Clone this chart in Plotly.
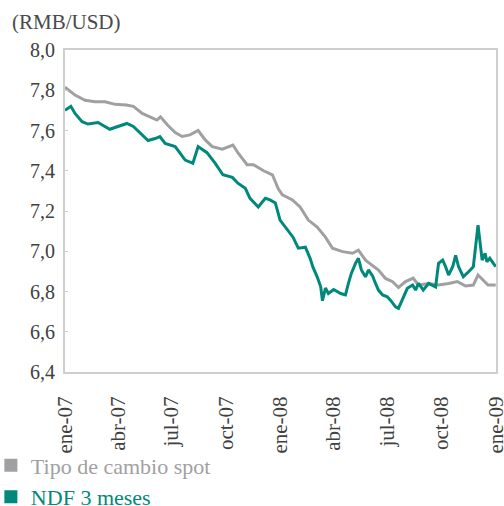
import plotly.graph_objects as go

# ---- data ----
spot_dates = ["2007-01-01","2007-01-18","2007-02-04","2007-02-21","2007-03-10","2007-03-27",
              "2007-04-15","2007-04-27","2007-05-12","2007-05-26","2007-06-06","2007-06-12",
              "2007-06-24","2007-07-07","2007-07-19","2007-08-01","2007-08-15","2007-08-27",
              "2007-09-08","2007-09-25","2007-10-13",
              "2007-10-22","2007-11-06","2007-11-17","2007-12-04","2007-12-19","2007-12-29",
              "2008-01-05","2008-01-22","2008-02-04","2008-02-18","2008-03-04","2008-03-18",
              "2008-03-30","2008-04-16","2008-05-03","2008-05-13","2008-05-25","2008-06-06",
              "2008-06-16","2008-06-28","2008-07-10","2008-07-20","2008-08-01","2008-08-14",
              "2008-08-23","2008-09-09","2008-09-26","2008-10-13","2008-10-28","2008-11-11",
              "2008-11-24","2008-12-02","2008-12-11","2008-12-19","2009-01-01"]
spot_values = [7.815,7.776,7.750,7.743,7.743,7.730,
               7.727,7.720,7.685,7.668,7.652,7.668,
               7.627,7.590,7.570,7.578,7.600,7.553,
               7.520,7.507,7.528,
               7.487,7.430,7.430,7.400,7.380,7.310,
               7.280,7.255,7.220,7.155,7.120,7.070,
               7.015,6.998,6.990,7.005,6.956,6.930,
               6.907,6.865,6.849,6.820,6.849,6.866,
               6.832,6.840,6.832,6.840,6.849,6.827,
               6.832,6.882,6.857,6.832,6.832]

ndf_dates = ["2007-01-01","2007-01-11","2007-01-18","2007-01-30","2007-02-09","2007-02-26",
             "2007-03-18","2007-04-01","2007-04-16","2007-04-27","2007-05-12","2007-05-22",
             "2007-06-03","2007-06-11","2007-06-20","2007-07-07","2007-07-24","2007-08-06",
             "2007-08-15","2007-08-30","2007-09-13","2007-09-26","2007-10-12","2007-10-22",
             "2007-11-03","2007-11-11","2007-11-25","2007-12-07","2007-12-15","2007-12-24",
             "2008-01-01","2008-01-10","2008-01-15","2008-01-23","2008-02-01","2008-02-13",
             "2008-02-21","2008-02-26","2008-03-04","2008-03-10","2008-03-13","2008-03-18",
             "2008-03-23","2008-04-01","2008-04-13","2008-04-21","2008-04-26","2008-05-01",
             "2008-05-08","2008-05-13","2008-05-18","2008-05-25","2008-05-30","2008-06-06",
             "2008-06-11","2008-06-16","2008-06-23","2008-07-01","2008-07-06","2008-07-15",
             "2008-07-20","2008-07-28","2008-08-04","2008-08-13","2008-08-18","2008-08-23",
             "2008-08-31","2008-09-09","2008-09-21","2008-09-26","2008-10-03","2008-10-08",
             "2008-10-13","2008-10-20","2008-10-25","2008-10-30","2008-11-07","2008-11-16",
             "2008-11-24","2008-12-02","2008-12-09","2008-12-14","2008-12-17","2008-12-22",
             "2009-01-01"]
ndf_values = [7.700,7.720,7.685,7.644,7.632,7.640,
              7.606,7.620,7.635,7.620,7.578,7.550,
              7.560,7.570,7.536,7.520,7.453,7.437,
              7.520,7.490,7.437,7.380,7.367,7.337,
              7.313,7.263,7.220,7.263,7.255,7.240,
              7.155,7.120,7.097,7.070,7.015,7.020,
              6.965,6.920,6.873,6.823,6.754,6.817,
              6.790,6.810,6.790,6.783,6.840,6.890,
              6.940,6.965,6.907,6.873,6.907,6.877,
              6.840,6.807,6.783,6.774,6.758,6.724,
              6.716,6.766,6.816,6.832,6.807,6.840,
              6.807,6.840,6.823,6.940,6.956,6.923,
              6.882,6.923,6.980,6.923,6.873,6.898,
              6.923,7.130,6.956,6.990,6.948,6.965,
              6.923]

tick_dates = ["2007-01-01","2007-04-01","2007-07-01","2007-10-01","2008-01-01",
              "2008-04-01","2008-07-01","2008-10-01","2009-01-01"]
tick_labels = ["ene-07","abr-07","jul-07","oct-07","ene-08","abr-08","jul-08","oct-08","ene-09"]
y_ticks = [6.4, 6.6, 6.8, 7.0, 7.2, 7.4, 7.6, 7.8, 8.0]

series_names = ["Tipo de cambio spot", "NDF 3 meses"]
GRAY = "#a0a0a3"
TEAL = "#00897a"
FONT = "Liberation Serif, DejaVu Serif, serif"

fig = go.Figure()
fig.add_trace(go.Scatter(x=spot_dates, y=spot_values, mode="lines",
                         line=dict(color=GRAY, width=3), showlegend=False,
                         name=series_names[0]))
fig.add_trace(go.Scatter(x=ndf_dates, y=ndf_values, mode="lines",
                         line=dict(color=TEAL, width=3), showlegend=False,
                         name=series_names[1]))
# legend entries with square swatches
for nm, col in zip(series_names, [GRAY, TEAL]):
    fig.add_trace(go.Scatter(x=[None], y=[None], mode="markers",
                             marker=dict(symbol="square", size=13, color=col),
                             name=f"<span style='color:{col}'>{nm}</span>",
                             showlegend=True))

fig.update_layout(
    width=504, height=506,
    margin=dict(l=65, r=8, t=50, b=134, autoexpand=False),
    plot_bgcolor="white", paper_bgcolor="white",
    separators=",.",
    font=dict(family=FONT, size=20, color="#4a4a4a"),
    title=dict(text="(RMB/USD)", x=12/504, xanchor="left", xref="container",
               y=1-22/506, yanchor="middle", yref="container",
               font=dict(family=FONT, size=21, color="#4a4a4a")),
    showlegend=True,
    legend=dict(x=-0.172, xanchor="left", y=-0.225, yanchor="top",
                orientation="v", font=dict(family=FONT, size=22),
                itemwidth=30, tracegroupgap=0, bgcolor="rgba(0,0,0,0)"),
)
fig.update_xaxes(range=["2007-01-01", "2009-01-01 12:00"], tickvals=tick_dates, ticktext=tick_labels,
                 tickangle=-90, showgrid=False, zeroline=False,
                 showline=True, linecolor="#cfcfcf", linewidth=2, mirror=True,
                 ticks="", ticklabelstandoff=14, ticklabeloverflow="allow",
                 tickfont=dict(family=FONT, size=21, color="#404040"))
fig.update_yaxes(range=[6.4, 8.0], tickvals=y_ticks, tickformat=".1f",
                 showgrid=False, zeroline=False,
                 showline=True, linecolor="#cfcfcf", linewidth=2, mirror=True,
                 ticks="inside", ticklen=3, tickcolor="#cfcfcf", ticklabelstandoff=4,
                 ticklabeloverflow="allow",
                 tickfont=dict(family=FONT, size=20, color="#404040"))

fig.write_html("out.html", config={"displayModeBar": False},
               post_script="document.body.style.margin='0';document.body.style.overflow='hidden';")
